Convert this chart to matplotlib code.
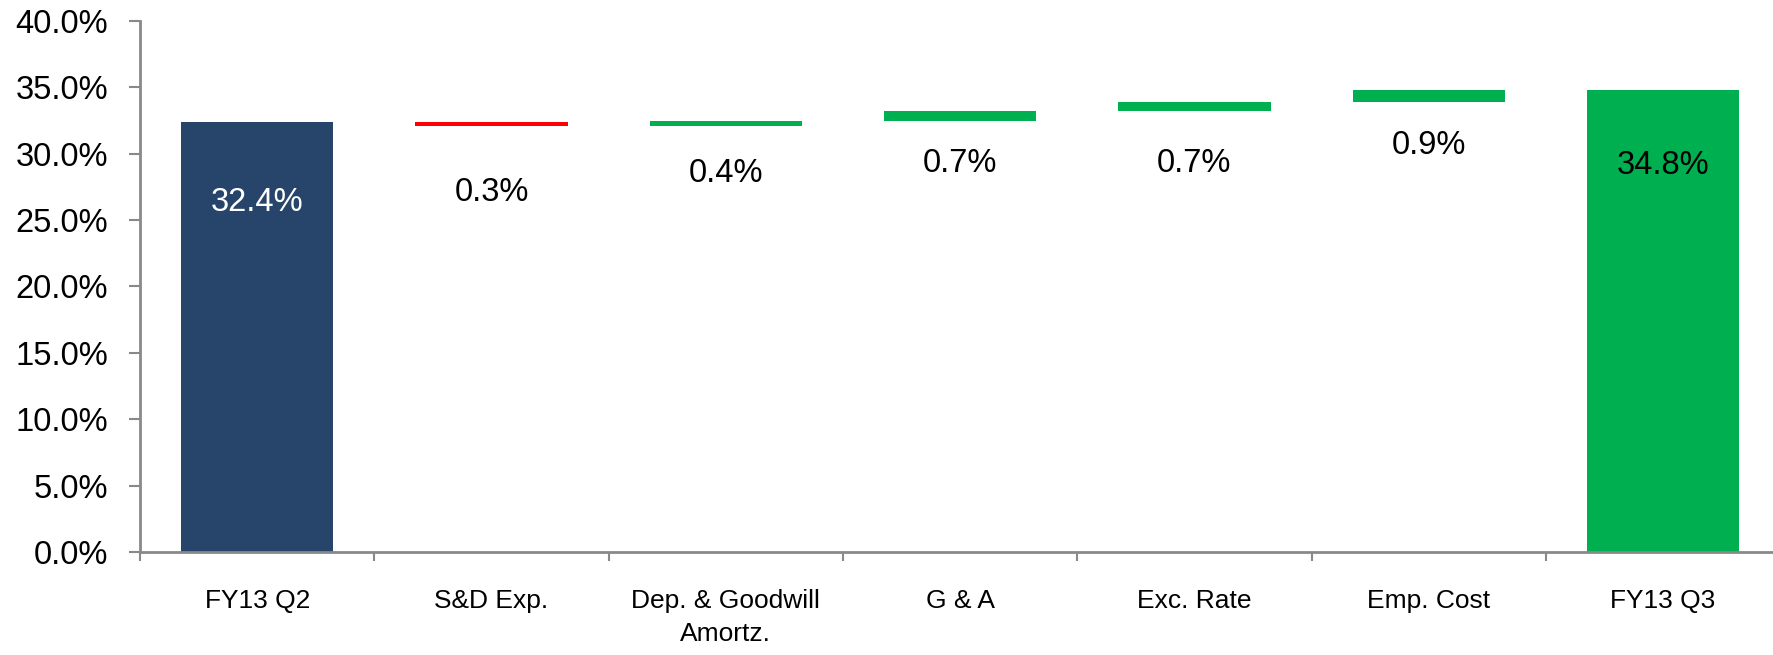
import numpy as np
import matplotlib
matplotlib.use("Agg")
import matplotlib.pyplot as plt
from matplotlib.ticker import PercentFormatter

plt.rcParams['font.family'] = ['Liberation Sans', 'DejaVu Sans']

# Data
categories = ["FY13 Q2", "S&D Exp.", "Dep. & Goodwill\nAmortz.", "G & A",
              "Exc. Rate", "Emp. Cost", "FY13 Q3"]
start_value = 32.4
changes = [-0.3, 0.4, 0.7, 0.7, 0.9]
end_value = 34.8

# Layout: where each value label sits (data units)
label_y = [26.3, 27.1, 28.5, 29.3, 29.3, 30.6, 29.1]

navy = "#27446A"
red = "#FF0000"
green = "#00B050"
axis_gray = "#898989"

# Build waterfall bottoms / heights
bottoms = [0.0]
heights = [start_value]
colors = [navy]
running = start_value
for c in changes:
    if c < 0:
        bottoms.append(running + c)
        heights.append(-c)
        colors.append(red)
    else:
        bottoms.append(running)
        heights.append(c)
        colors.append(green)
    running += c
bottoms.append(0.0)
heights.append(end_value)
colors.append(green)

values = [start_value] + [abs(c) for c in changes] + [end_value]
text_colors = ["white"] + ["black"] * 6

fig = plt.figure(figsize=(17.73, 6.55), dpi=100)
ax = fig.add_axes([0.079, 0.1573, 0.925, 0.8107])

x = np.arange(len(categories))
ax.bar(x, heights, bottom=bottoms, width=0.65, color=colors)

for xi, v, ly, tc in zip(x, values, label_y, text_colors):
    ax.text(xi, ly, f"{v:.1f}%", ha="center", va="center", fontsize=23.5, color=tc)

ax.set_xlim(-0.5, len(categories) - 0.5)
ax.set_ylim(0, 40)
ax.set_yticks(np.arange(0, 40.1, 5))
ax.yaxis.set_major_formatter(PercentFormatter(decimals=1))

ax.set_xticks(x)
ax.set_xticklabels(categories, fontsize=19, linespacing=1.45)
ax.set_xticks(np.arange(-0.5, len(categories) + 0.5, 1), minor=True)
ax.tick_params(axis="x", which="major", length=0, pad=27)
ax.tick_params(axis="x", which="minor", length=6.5, width=1.5, color=axis_gray, direction="out")
ax.tick_params(axis="y", labelsize=23.5, length=8, width=1.5, color=axis_gray, direction="out", pad=15)

for side in ["top", "right"]:
    ax.spines[side].set_visible(False)
for side in ["left", "bottom"]:
    ax.spines[side].set_color(axis_gray)
    ax.spines[side].set_linewidth(2)

fig.savefig("out.png", dpi=100)
